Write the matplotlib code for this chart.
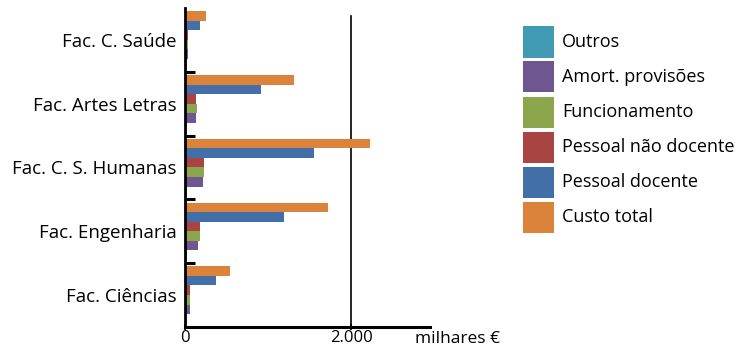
import matplotlib.pyplot as plt
import matplotlib.ticker as ticker
from matplotlib.patches import Rectangle
import numpy as np

plt.rcParams["font.family"] = ["Open Sans", "DejaVu Sans"]

W, H = 743, 346

# Faculties, top to bottom as shown on the chart
FACULTIES = ["Fac. C. Saúde", "Fac. Artes Letras", "Fac. C. S. Humanas",
             "Fac. Engenharia", "Fac. Ciências"]

# Cost components (thousands of euros), same order as FACULTIES
SERIES = ["Outros", "Amort. provisões", "Funcionamento",
          "Pessoal não docente", "Pessoal docente", "Custo total"]
OUTROS = [28, 25, 25, 25, 25]
AMORT = [30, 132, 216, 156, 62]
FUNCIONAMENTO = [30, 144, 228, 180, 62]
PESSOAL_NAO_DOCENTE = [32, 132, 228, 180, 62]
PESSOAL_DOCENTE = [180, 912, 1548, 1188, 372]
CUSTO_TOTAL = [252, 1308, 2220, 1716, 540]

COLORS = ["#3f9ab2", "#6e5790", "#8ba64d", "#a84442", "#426fa8", "#db833a"]


def draw_legend(fig):
    # swatch key on the right, drawn in pixel units then scaled to figure
    x0, top, size, pitch = 523, 26.5, 31, 35
    for i, (name, col) in enumerate(zip(SERIES, COLORS)):
        y_top = top + i * pitch
        fig.add_artist(Rectangle((x0 / W, 1 - (y_top + size) / H),
                                 size / W, size / H,
                                 transform=fig.transFigure,
                                 color=col, linewidth=0))
        fig.text((x0 + size + 8) / W, 1 - (y_top + size / 2) / H, name,
                 ha="left", va="center", fontsize=13)


def main():
    values = [OUTROS, AMORT, FUNCIONAMENTO, PESSOAL_NAO_DOCENTE,
              PESSOAL_DOCENTE, CUSTO_TOTAL]

    fig = plt.figure(figsize=(W / 100, H / 100), dpi=100)
    ax = fig.add_axes([0.249, 0.055, 0.330, 0.922])

    n = len(FACULTIES)
    ypos = np.arange(n)[::-1]          # first faculty on top
    h = 0.15
    offsets = (np.arange(len(SERIES)) - 2.5) * h

    for name, vals, off, col in zip(SERIES, values, offsets, COLORS):
        ax.barh(ypos + off, vals, height=h, color=col, label=name, linewidth=0)

    ax.set_xlim(0, 2950)
    ax.set_ylim(-0.5, n - 0.5)
    ax.axvline(2000, ymax=0.975, color="black", linewidth=1.2, zorder=0)

    ax.xaxis.set_major_locator(ticker.FixedLocator([0, 2000]))
    ax.xaxis.set_major_formatter(
        ticker.FuncFormatter(lambda v, _: f"{v:,.0f}".replace(",", ".")))
    ax.tick_params(axis="x", length=4, width=1.2, direction="inout",
                   labelsize=12, pad=0)

    ax.set_yticks(ypos)
    ax.set_yticklabels(FACULTIES, fontsize=13.5)
    ax.tick_params(axis="y", which="major", length=0, pad=6)
    ax.set_yticks(np.arange(n - 1) + 0.5, minor=True)
    ax.tick_params(axis="y", which="minor", length=7, width=2.2,
                   direction="in")

    for side in ["top", "right"]:
        ax.spines[side].set_visible(False)
    ax.spines["left"].set_linewidth(2.0)
    ax.spines["bottom"].set_linewidth(2.2)

    ax.text(0.94, -0.012, "milhares €", transform=ax.transAxes,
            ha="left", va="top", fontsize=12.5)

    draw_legend(fig)

    fig.savefig("out.png", dpi=100)


if __name__ == "__main__":
    main()
